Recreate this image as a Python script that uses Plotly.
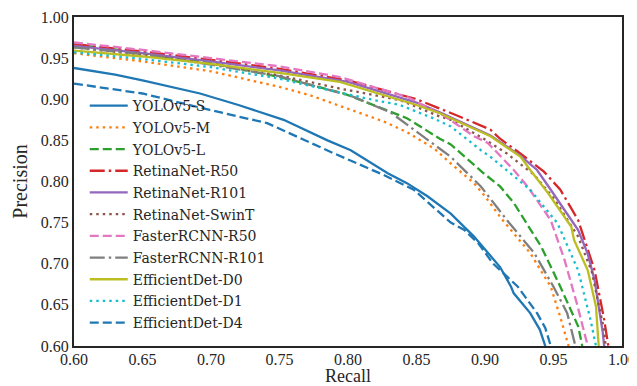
import plotly.graph_objects as go

names = ["YOLOv5-S", "YOLOv5-M", "YOLOv5-L", "RetinaNet-R50", "RetinaNet-R101",
         "RetinaNet-SwinT", "FasterRCNN-R50", "FasterRCNN-R101", "EfficientDet-D0",
         "EfficientDet-D1", "EfficientDet-D4"]

yolov5_s_r = [0.60, 0.63, 0.65, 0.67, 0.692, 0.72, 0.753, 0.785, 0.802, 0.829, 0.843, 0.858, 0.875, 0.892, 0.904, 0.911, 0.919, 0.921, 0.933, 0.940, 0.944]
yolov5_s_p = [0.938, 0.930, 0.923, 0.915, 0.907, 0.893, 0.875, 0.850, 0.838, 0.810, 0.798, 0.782, 0.761, 0.733, 0.709, 0.696, 0.672, 0.664, 0.640, 0.620, 0.600]

yolov5_m_r = [0.60, 0.65, 0.70, 0.75, 0.772, 0.794, 0.826, 0.843, 0.863, 0.875, 0.892, 0.90, 0.911, 0.933, 0.948, 0.955, 0.961]
yolov5_m_p = [0.956, 0.946, 0.934, 0.915, 0.905, 0.892, 0.873, 0.860, 0.840, 0.822, 0.798, 0.782, 0.757, 0.713, 0.672, 0.635, 0.600]

yolov5_l_r = [0.60, 0.65, 0.70, 0.75, 0.797, 0.843, 0.867, 0.875, 0.899, 0.911, 0.921, 0.941, 0.955, 0.968, 0.971]
yolov5_l_p = [0.967, 0.956, 0.944, 0.927, 0.907, 0.877, 0.852, 0.845, 0.810, 0.794, 0.774, 0.721, 0.672, 0.624, 0.600]

retina_r50_r = [0.60, 0.65, 0.70, 0.75, 0.80, 0.85, 0.88, 0.904, 0.911, 0.925, 0.943, 0.955, 0.968, 0.980, 0.987, 0.990]
retina_r50_p = [0.967, 0.958, 0.948, 0.937, 0.923, 0.900, 0.880, 0.863, 0.852, 0.835, 0.812, 0.790, 0.753, 0.692, 0.632, 0.600]

retina_r101_r = [0.60, 0.65, 0.70, 0.75, 0.80, 0.85, 0.867, 0.904, 0.926, 0.938, 0.948, 0.958, 0.968, 0.975, 0.980, 0.986, 0.987]
retina_r101_p = [0.965, 0.956, 0.946, 0.935, 0.921, 0.896, 0.884, 0.856, 0.831, 0.814, 0.790, 0.765, 0.741, 0.712, 0.680, 0.616, 0.600]

retina_swin_r = [0.60, 0.65, 0.70, 0.75, 0.794, 0.838, 0.867, 0.875, 0.90, 0.916, 0.936, 0.950, 0.968, 0.978, 0.987, 0.988]
retina_swin_p = [0.963, 0.954, 0.943, 0.929, 0.913, 0.899, 0.879, 0.875, 0.851, 0.834, 0.808, 0.780, 0.733, 0.690, 0.619, 0.600]

faster_r50_r = [0.60, 0.65, 0.70, 0.75, 0.794, 0.843, 0.87, 0.892, 0.902, 0.921, 0.931, 0.948, 0.958, 0.967, 0.975]
faster_r50_p = [0.969, 0.960, 0.950, 0.940, 0.927, 0.903, 0.880, 0.855, 0.847, 0.814, 0.794, 0.753, 0.705, 0.652, 0.600]

faster_r101_r = [0.60, 0.65, 0.70, 0.75, 0.765, 0.804, 0.831, 0.855, 0.875, 0.897, 0.916, 0.936, 0.950, 0.960, 0.966]
faster_r101_p = [0.963, 0.955, 0.942, 0.928, 0.921, 0.903, 0.884, 0.855, 0.830, 0.794, 0.753, 0.713, 0.672, 0.640, 0.600]

effdet_d0_r = [0.60, 0.65, 0.70, 0.75, 0.794, 0.85, 0.867, 0.904, 0.926, 0.933, 0.946, 0.963, 0.965, 0.975, 0.981, 0.983]
effdet_d0_p = [0.959, 0.952, 0.943, 0.932, 0.921, 0.893, 0.883, 0.855, 0.830, 0.814, 0.786, 0.745, 0.729, 0.692, 0.648, 0.600]

effdet_d1_r = [0.60, 0.65, 0.70, 0.75, 0.765, 0.819, 0.838, 0.862, 0.875, 0.897, 0.904, 0.928, 0.933, 0.953, 0.968, 0.977, 0.981]
effdet_d1_p = [0.957, 0.949, 0.939, 0.925, 0.919, 0.899, 0.893, 0.877, 0.867, 0.838, 0.830, 0.796, 0.790, 0.749, 0.692, 0.632, 0.600]

effdet_d4_r = [0.60, 0.65, 0.699, 0.741, 0.79, 0.826, 0.848, 0.875, 0.885, 0.895, 0.906, 0.916, 0.924, 0.938, 0.944, 0.948]
effdet_d4_p = [0.919, 0.907, 0.887, 0.871, 0.834, 0.808, 0.790, 0.750, 0.741, 0.725, 0.700, 0.684, 0.672, 0.640, 0.622, 0.600]

recalls = [yolov5_s_r, yolov5_m_r, yolov5_l_r, retina_r50_r, retina_r101_r, retina_swin_r,
           faster_r50_r, faster_r101_r, effdet_d0_r, effdet_d1_r, effdet_d4_r]
precisions = [yolov5_s_p, yolov5_m_p, yolov5_l_p, retina_r50_p, retina_r101_p, retina_swin_p,
              faster_r50_p, faster_r101_p, effdet_d0_p, effdet_d1_p, effdet_d4_p]

colors = ["#1f77b4", "#ff7f0e", "#2ca02c", "#d62728", "#9467bd", "#8c564b",
          "#e377c2", "#7f7f7f", "#bcbd22", "#17becf", "#1f77b4"]
SOLID, DOT, DASH, DASHDOT = "solid", "2.5px,4px", "9px,4px", "15px,4px,2.5px,4px"
dashes = [SOLID, DOT, DASH, DASHDOT, SOLID, DOT, DASH, DASHDOT, SOLID, DOT, DASH]

font_family = "Liberation Serif, DejaVu Serif, serif"
legend_family = "DejaVu Serif, Liberation Serif, serif"
ink = "#262626"

fig = go.Figure()
for n, r, p, c, d in zip(names, recalls, precisions, colors, dashes):
    fig.add_trace(go.Scatter(x=r, y=p, mode="lines", name=n, legendgroup=n,
                             line=dict(color=c, width=2.3, dash=d)))

axis_common = dict(range=[0.60, 1.00], dtick=0.05, tickformat=".2f",
                   showgrid=False, zeroline=False, showline=True, mirror=True,
                   linecolor=ink, linewidth=2, ticks="", automargin=False,
                   ticklabeloverflow="allow",
                   tickfont=dict(family=font_family, size=16, color=ink))

# page body has an 8px margin; the figure is offset by it inside the 637x386 window
fig.update_layout(
    width=629, height=378,
    margin=dict(l=66, r=15, t=9, b=40),
    paper_bgcolor="white", plot_bgcolor="white",
    font=dict(family=font_family, color=ink),
    xaxis=dict(**axis_common, ticklabelstandoff=-2,
               title=dict(text="Recall", font=dict(size=18, color=ink), standoff=20)),
    yaxis=dict(**axis_common, title=dict(text="Precision", font=dict(size=20, color=ink), standoff=8)),
    legend=dict(x=0.0196, y=0.778, xanchor="left", yanchor="top",
                bgcolor="rgba(0,0,0,0)", borderwidth=0, itemwidth=38,
                font=dict(family=legend_family, size=14, color=ink),
                tracegroupgap=0.5),
    showlegend=True,
)

fig.write_html("out.html")
